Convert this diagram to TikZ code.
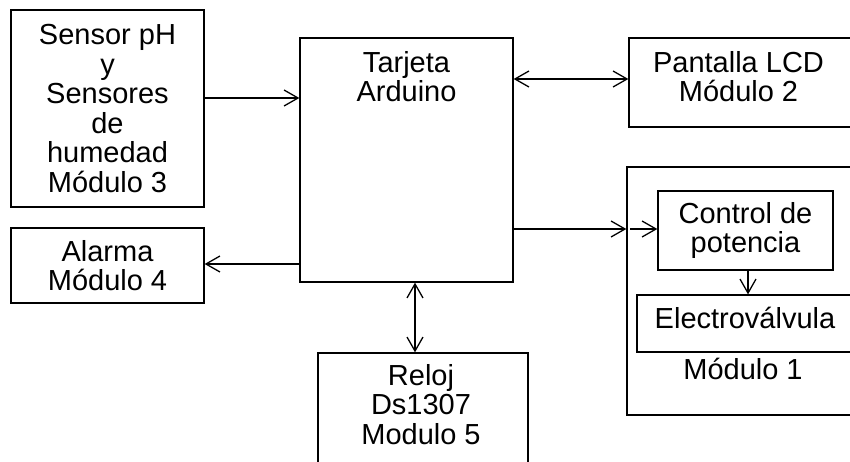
\documentclass[tikz,border=0pt]{standalone}
\usepackage{fontspec}
\setmainfont{Liberation Sans}
\usetikzlibrary{arrows.meta}
\begin{document}
\begin{tikzpicture}[x=1pt,y=-1pt,
  box/.style={draw, line width=1.3pt, inner sep=0pt, rectangle},
  txt/.style={inner sep=0pt, align=center, font=\fontsize{29}{29.5}\selectfont},
  arr/.style={line width=1.3pt, -{Straight Barb[length=14pt,width=16pt]}},
  biarr/.style={line width=1.3pt, {Straight Barb[length=14pt,width=16pt]}-{Straight Barb[length=14pt,width=16pt]}}]
\useasboundingbox (0,0) rectangle (850,462);
% boxes
\node[box, minimum width=193pt, minimum height=197pt] (sens) at (107.5,108.5) {};
\node[box, minimum width=213pt, minimum height=244pt] (ard) at (406.5,160) {};
\node[box, minimum width=193pt, minimum height=75pt] (alarm) at (107.5,265.5) {};
\node[box, minimum width=241pt, minimum height=89pt] (lcd) at (749.5,82.5) {};
\node[box, minimum width=243pt, minimum height=248pt] (outer) at (748.5,291) {};
\node[box, minimum width=175pt, minimum height=79pt] (ctrl) at (745.5,230.5) {};
\node[box, minimum width=233pt, minimum height=57pt] (elec) at (753.5,323.5) {};
\node[box, minimum width=210pt, minimum height=137pt] (reloj) at (423,421.5) {};
% texts
\node[txt, anchor=north] (senst) at (107.5,24.2) {Sensor pH\\y\\Sensores\\de\\humedad\\Módulo 3};
\node[txt, anchor=north] (ardt) at (406.5,51.2) {Tarjeta\\Arduino};
\node[txt, anchor=north] (alarmt) at (107.5,240.2) {Alarma\\Módulo 4};
\node[txt, anchor=north] (lcdt) at (738.5,51.2) {Pantalla LCD\\Módulo 2};
\node[txt, anchor=north] (ctrlt) at (745.5,202.2) {Control de\\potencia};
\node[txt, anchor=base] (elect) at (745,328) {Electroválvula};
\node[txt, anchor=base] (modt) at (743,379) {Módulo 1};
\node[txt, anchor=north] (relojt) at (421,364.2) {Reloj\\Ds1307\\Modulo 5};
% helper coordinates
\coordinate (ya) at (0,98);
\coordinate (yb) at (0,264);
\coordinate (yc) at (0,79);
\coordinate (yd) at (0,229);
\coordinate (xe) at (748,0);
\coordinate (xf) at (415,0);
% connectors
\draw[arr] (sens.east |- ya) -- (ard.west |- ya);
\draw[arr] (ard.west |- yb) -- (alarm.east |- yb);
\draw[biarr] (ard.east |- yc) -- (lcd.west |- yc);
\draw[arr] (ard.east |- yd) -- (outer.west |- yd);
\draw[arr] ([xshift=4pt]outer.west |- yd) -- (ctrl.west |- yd);
\draw[arr] (xe |- ctrl.south) -- (xe |- elec.north);
\draw[biarr] (xf |- ard.south) -- (xf |- reloj.north);
\end{tikzpicture}
\end{document}
